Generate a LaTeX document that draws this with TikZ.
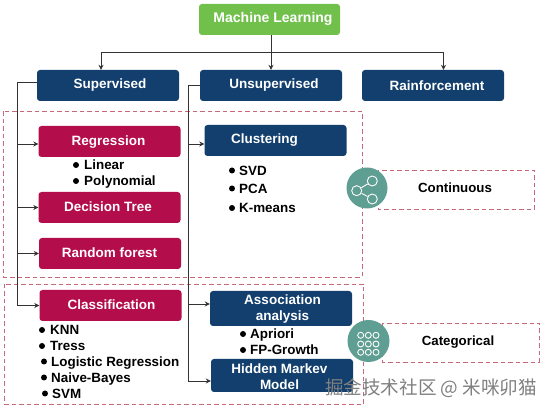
\documentclass[tikz,border=0pt]{standalone}
\usepackage{fontspec}
\setmainfont{Liberation Sans}
\newfontfamily\cjkwm{Noto Sans CJK SC}
\usetikzlibrary{calc,arrows.meta}
\definecolor{navy}{HTML}{123F6D}
\definecolor{crim}{HTML}{B30D4B}
\definecolor{leaf}{HTML}{70C04B}
\definecolor{teal2}{HTML}{5F9E92}
\definecolor{dashc}{HTML}{C9677A}
\definecolor{wire}{HTML}{333333}
% #1 = twice the horizontal shift, #2 = raise, #3 = text
\newcommand{\boxtext}[3]{\raisebox{#2pt}[0pt][0pt]{\makebox[0pt]{\hspace*{#1pt}#3}}}
\newcommand{\twolines}[2]{\begin{tabular}[b]{@{}c@{}}#1\\#2\end{tabular}}
\tikzset{
  box/.style={rounded corners=3pt,minimum width=142pt,minimum height=31pt,inner sep=0pt,align=center,
    text=white,font=\fontsize{13.5}{16}\selectfont\bfseries},
  navybox/.style={box,fill=navy},
  crimbox/.style={box,fill=crim},
  leafbox/.style={box,fill=leaf},
  zone/.style={draw=dashc,dashed,dash pattern=on 4.5pt off 3pt,line width=0.8pt},
  wireline/.style={draw=wire,line width=0.8pt},
  arrowline/.style={wireline,-{Stealth[length=5pt,width=5pt]}},
  item/.style={anchor=west,inner sep=0pt,text height=9.7pt,text depth=0pt,text=black,font=\fontsize{13.4}{16}\selectfont\bfseries},
  tag/.style={inner sep=0pt,text height=9.7pt,text depth=0pt,text=black,font=\fontsize{13.3}{16}\selectfont\bfseries},
  dot/.style={circle,fill=black,inner sep=0pt,minimum size=6pt},
  badge/.style={circle,fill=teal2,inner sep=0pt},
  ring/.style={circle,draw=white,line width=0.9pt,inner sep=0pt},
}
\begin{document}
\begin{tikzpicture}[x=1pt,y=-1pt]
\useasboundingbox[fill=white] (0,0) rectangle (550,411);

% dashed zones
\draw[zone] (3,111.5) rectangle (362,277);
\draw[zone] (4.5,284) rectangle (363.5,404.5);
\draw[zone] (378,170.5) rectangle (534.5,209.5);
\draw[zone] (382,323) rectangle (539,362);

% boxes
\node[leafbox,minimum width=141pt] (ml) at (269.5,19.5) {\boxtext{7}{-3.35}{\fontsize{14}{16}\selectfont Machine Learning}};
\node[navybox] (sup) at (108,85.5) {\boxtext{4}{-3.35}{Supervised}};
\node[navybox] (uns) at (271,85.5) {\boxtext{6}{-2.85}{Unsupervised}};
\node[navybox] (rai) at (433,85.5) {\boxtext{8}{-4.85}{Rainforcement}};
\node[crimbox] (reg) at (109.5,141.5) {\boxtext{-2}{-3.65}{Regression}};
\node[crimbox] (dec) at (109.5,207.5) {\boxtext{-3}{-4.4}{Decision Tree}};
\node[crimbox] (ran) at (110,253.5) {\boxtext{-1}{-3.85}{Random forest}};
\node[crimbox] (cla) at (110.5,305.5) {\boxtext{2}{-3.65}{Classification}};
\node[navybox] (clu) at (275.5,140.5) {\boxtext{-22}{-2.85}{Clustering}};
\node[navybox,minimum height=35pt] (ass) at (281,308.5) {\boxtext{3}{-12.5}{\twolines{Association}{analysis}}};
\node[navybox,minimum height=33pt] (hid) at (282,375.5) {\boxtext{-5}{-14.5}{\twolines{Hidden Markev}{Model}}};

% connectors
\coordinate (mlfork) at (271,52);
\coordinate (supbus) at (17,82);
\coordinate (unsbus) at (188,85.5);
\draw[arrowline] (ml.south -| mlfork) -- (uns.north -| mlfork);
\draw[arrowline] (mlfork) -| (sup.north -| 101,0);
\draw[arrowline] (mlfork) -| (rai.north -| 443.5,0);

\draw[wireline] (sup.west |- supbus) -- (supbus) -- (supbus |- cla.west);
\draw[arrowline] ($(supbus |- reg.west)+(0,2.5)$) -- ($(reg.west)+(0,2.5)$);
\draw[arrowline] (supbus |- dec.west) -- (dec.west);
\draw[arrowline] (supbus |- ran.west) -- (ran.west);
\draw[arrowline] (supbus |- cla.west) -- (cla.west);

\draw[wireline] (uns.west) -- (unsbus) -- ($(unsbus |- hid.west)+(0,5.5)$);
\draw[arrowline] ($(unsbus |- clu.west)+(0,3.5)$) -- ($(clu.west)+(0,3.5)$);
\draw[arrowline] ($(unsbus |- ass.west)+(0,-4.5)$) -- ($(ass.west)+(0,-4.5)$);
\draw[arrowline] ($(unsbus |- hid.west)+(0,5.5)$) -- ($(hid.west)+(0,5.5)$);

% bullet lists
\foreach \nm/\dx/\tx/\yy/\lab in {
  lin/76/84/165/Linear, pol/76/84/181/Polynomial,
  svd/232/239/170.5/SVD, pca/232/239/188.5/PCA, kme/232/239/208/K-means,
  knn/42/50/330/KNN, tre/42/50/346/Tress, log/44/51/361.5/Logistic Regression,
  nai/44/51/377.5/Naive-Bayes, svm/45/52/393.5/SVM,
  apr/243/250/334/Apriori, fpg/243/250/350/FP-Growth}{
  \node[dot] (d\nm) at (\dx,\yy) {};
  \node[item] (t\nm) at (\tx,\yy) {\lab};
}

% tags
\node[tag] (con) at (455,188) {Continuous};
\node[tag] (cat) at (458,341) {Categorical};

% share badge
\node[badge,minimum size=41pt] (bcon) at (367,188) {};
\node[ring,minimum size=10pt] (s1) at (372.3,181) {};
\node[ring,minimum size=10pt] (s2) at (356.7,190.7) {};
\node[ring,minimum size=10pt] (s3) at (372.3,199) {};
\draw[draw=white,line width=0.9pt] (s2) -- (s1) (s2) -- (s3);

% grid badge
\node[badge,minimum size=42pt] (bcat) at (368.5,341) {};
\foreach \i/\x in {a/360.7,b/368.3,c/376}
  \foreach \j/\y in {p/335.3,q/344,r/352.3}
    \node[ring,minimum size=6pt] (g\i\j) at (\x,\y) {};

% watermark
\node[inner sep=0pt,text=black!50,font=\cjkwm\fontsize{18.6}{20}\selectfont] (wm) at (431,388) {掘金技术社区 @ 米咪卯猫};
\end{tikzpicture}
\end{document}
